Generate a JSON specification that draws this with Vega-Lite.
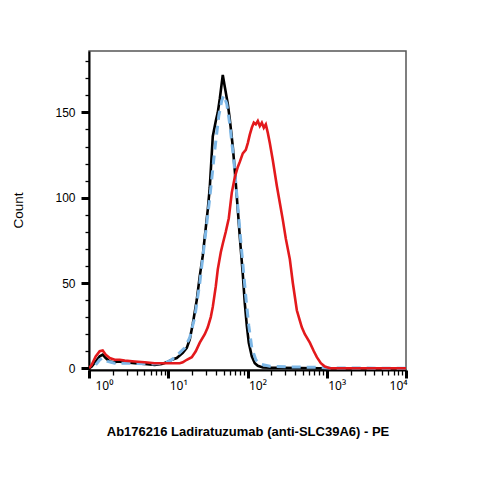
{
  "$schema": "https://vega.github.io/schema/vega-lite/v6.json",
  "width": 317,
  "height": 319,
  "autosize": {"type": "none"},
  "padding": {"left": 89, "top": 51, "right": 73, "bottom": 109},
  "background": "white",
  "config": {
    "view": {"stroke": "#555555", "strokeWidth": 1.5},
    "font": "Liberation Sans"
  },
  "data": {
    "values": [
      {"s": "k", "x": 1, "y": 0},
      {"s": "k", "x": 1.082, "y": 1},
      {"s": "k", "x": 1.215, "y": 4},
      {"s": "k", "x": 1.365, "y": 7},
      {"s": "k", "x": 1.489, "y": 8},
      {"s": "k", "x": 1.625, "y": 6},
      {"s": "k", "x": 1.825, "y": 4},
      {"s": "k", "x": 2.051, "y": 3.5},
      {"s": "k", "x": 2.303, "y": 4},
      {"s": "k", "x": 2.824, "y": 3.5},
      {"s": "k", "x": 3.776, "y": 3},
      {"s": "k", "x": 5.05, "y": 2.5},
      {"s": "k", "x": 6.75, "y": 2},
      {"s": "k", "x": 8.277, "y": 2.5},
      {"s": "k", "x": 9.574, "y": 3.5},
      {"s": "k", "x": 11.07, "y": 5},
      {"s": "k", "x": 12.8, "y": 6},
      {"s": "k", "x": 15.25, "y": 9},
      {"s": "k", "x": 17.13, "y": 12},
      {"s": "k", "x": 18.69, "y": 17},
      {"s": "k", "x": 20.39, "y": 26},
      {"s": "k", "x": 22.89, "y": 40},
      {"s": "k", "x": 24.99, "y": 54},
      {"s": "k", "x": 27.27, "y": 66},
      {"s": "k", "x": 28.9, "y": 77},
      {"s": "k", "x": 31.53, "y": 93},
      {"s": "k", "x": 33.42, "y": 106},
      {"s": "k", "x": 36.47, "y": 136},
      {"s": "k", "x": 39.79, "y": 145},
      {"s": "k", "x": 42.17, "y": 150},
      {"s": "k", "x": 44.71, "y": 158},
      {"s": "k", "x": 48.76, "y": 172},
      {"s": "k", "x": 51.69, "y": 165},
      {"s": "k", "x": 56.41, "y": 155},
      {"s": "k", "x": 59.78, "y": 146},
      {"s": "k", "x": 65.22, "y": 130},
      {"s": "k", "x": 69.14, "y": 116},
      {"s": "k", "x": 75.43, "y": 93},
      {"s": "k", "x": 79.97, "y": 77},
      {"s": "k", "x": 87.25, "y": 55},
      {"s": "k", "x": 92.47, "y": 38},
      {"s": "k", "x": 98.0, "y": 25},
      {"s": "k", "x": 103.8, "y": 15},
      {"s": "k", "x": 113.3, "y": 7},
      {"s": "k", "x": 123.6, "y": 3},
      {"s": "k", "x": 134.9, "y": 1.5},
      {"s": "k", "x": 156.1, "y": 0.5},
      {"s": "k", "x": 191.2, "y": 0.3},
      {"s": "k", "x": 255.7, "y": 0.3},
      {"s": "k", "x": 457.5, "y": 0.2},
      {"s": "k", "x": 818.4, "y": 0},
      {"s": "k", "x": 10000, "y": 0},
      {"s": "b", "x": 1.215, "y": 2},
      {"s": "b", "x": 1.365, "y": 5},
      {"s": "b", "x": 1.489, "y": 6},
      {"s": "b", "x": 1.722, "y": 4},
      {"s": "b", "x": 2.111, "y": 3},
      {"s": "b", "x": 3.265, "y": 3},
      {"s": "b", "x": 5.84, "y": 2.5},
      {"s": "b", "x": 9.03, "y": 3},
      {"s": "b", "x": 11.07, "y": 5},
      {"s": "b", "x": 13.18, "y": 8},
      {"s": "b", "x": 16.16, "y": 12},
      {"s": "b", "x": 18.69, "y": 18},
      {"s": "b", "x": 21.61, "y": 30},
      {"s": "b", "x": 24.99, "y": 50},
      {"s": "b", "x": 28.9, "y": 75},
      {"s": "b", "x": 33.42, "y": 100},
      {"s": "b", "x": 38.65, "y": 128},
      {"s": "b", "x": 43.42, "y": 148},
      {"s": "b", "x": 47.37, "y": 157},
      {"s": "b", "x": 50.21, "y": 160},
      {"s": "b", "x": 54.79, "y": 155},
      {"s": "b", "x": 59.78, "y": 143},
      {"s": "b", "x": 67.14, "y": 122},
      {"s": "b", "x": 75.43, "y": 95},
      {"s": "b", "x": 84.72, "y": 68},
      {"s": "b", "x": 95.17, "y": 42},
      {"s": "b", "x": 103.8, "y": 25},
      {"s": "b", "x": 113.3, "y": 12},
      {"s": "b", "x": 127.3, "y": 5},
      {"s": "b", "x": 143.0, "y": 2.5},
      {"s": "b", "x": 191.2, "y": 1.2},
      {"s": "b", "x": 342.0, "y": 0.8},
      {"s": "b", "x": 818.4, "y": 0.5},
      {"s": "b", "x": 1094, "y": 0.2},
      {"s": "b", "x": 10000, "y": 0},
      {"s": "r", "x": 1, "y": 0},
      {"s": "r", "x": 1.082, "y": 2},
      {"s": "r", "x": 1.215, "y": 7},
      {"s": "r", "x": 1.365, "y": 10},
      {"s": "r", "x": 1.489, "y": 10.5},
      {"s": "r", "x": 1.625, "y": 8},
      {"s": "r", "x": 1.825, "y": 6},
      {"s": "r", "x": 2.111, "y": 5},
      {"s": "r", "x": 2.442, "y": 5},
      {"s": "r", "x": 2.824, "y": 4.5},
      {"s": "r", "x": 3.776, "y": 4},
      {"s": "r", "x": 5.05, "y": 3.5},
      {"s": "r", "x": 6.75, "y": 3},
      {"s": "r", "x": 9.03, "y": 3},
      {"s": "r", "x": 12.08, "y": 3},
      {"s": "r", "x": 13.97, "y": 3},
      {"s": "r", "x": 15.25, "y": 3.5},
      {"s": "r", "x": 17.13, "y": 5},
      {"s": "r", "x": 19.81, "y": 6.5},
      {"s": "r", "x": 22.24, "y": 10},
      {"s": "r", "x": 24.99, "y": 15},
      {"s": "r", "x": 28.9, "y": 20},
      {"s": "r", "x": 31.53, "y": 24},
      {"s": "r", "x": 34.41, "y": 30},
      {"s": "r", "x": 36.47, "y": 36},
      {"s": "r", "x": 39.79, "y": 48},
      {"s": "r", "x": 42.17, "y": 58},
      {"s": "r", "x": 46.03, "y": 68},
      {"s": "r", "x": 48.76, "y": 73},
      {"s": "r", "x": 53.21, "y": 80},
      {"s": "r", "x": 58.06, "y": 88},
      {"s": "r", "x": 63.36, "y": 103},
      {"s": "r", "x": 69.14, "y": 112},
      {"s": "r", "x": 75.43, "y": 118},
      {"s": "r", "x": 79.97, "y": 121},
      {"s": "r", "x": 87.25, "y": 126},
      {"s": "r", "x": 95.17, "y": 128},
      {"s": "r", "x": 100.9, "y": 132},
      {"s": "r", "x": 106.9, "y": 137},
      {"s": "r", "x": 113.3, "y": 141},
      {"s": "r", "x": 120.1, "y": 144},
      {"s": "r", "x": 127.3, "y": 143},
      {"s": "r", "x": 134.9, "y": 145},
      {"s": "r", "x": 143.0, "y": 142},
      {"s": "r", "x": 151.6, "y": 144},
      {"s": "r", "x": 160.6, "y": 141},
      {"s": "r", "x": 170.3, "y": 143},
      {"s": "r", "x": 180.5, "y": 138},
      {"s": "r", "x": 191.2, "y": 132},
      {"s": "r", "x": 208.6, "y": 122},
      {"s": "r", "x": 234.4, "y": 107},
      {"s": "r", "x": 255.7, "y": 97},
      {"s": "r", "x": 279.0, "y": 87},
      {"s": "r", "x": 304.4, "y": 76},
      {"s": "r", "x": 342.0, "y": 64},
      {"s": "r", "x": 373.3, "y": 50},
      {"s": "r", "x": 419.3, "y": 34},
      {"s": "r", "x": 457.5, "y": 28},
      {"s": "r", "x": 484.8, "y": 24},
      {"s": "r", "x": 529.0, "y": 20},
      {"s": "r", "x": 611.8, "y": 15},
      {"s": "r", "x": 687.4, "y": 10},
      {"s": "r", "x": 749.9, "y": 6.5},
      {"s": "r", "x": 842.4, "y": 3},
      {"s": "r", "x": 946.2, "y": 1},
      {"s": "r", "x": 1094, "y": 0},
      {"s": "r", "x": 10000, "y": 0}
    ]
  },
  "encoding": {
    "x": {
      "field": "x",
      "type": "quantitative",
      "scale": {"type": "log", "domain": [1, 10000], "nice": false},
      "axis": {
        "title": "Ab176216 Ladiratuzumab (anti-SLC39A6) - PE",
        "titleFont": "Liberation Sans",
        "titleFontSize": 13,
        "titleFontWeight": "bold",
        "titleColor": "#000000",
        "titleBaseline": "middle",
        "titleY": 61,
        "values": [1,2,3,4,5,6,7,8,9,10,20,30,40,50,60,70,80,90,100,200,300,400,500,600,700,800,900,1000,2000,3000,4000,5000,6000,7000,8000,9000,10000],
        "labelExpr": "indexof([1,10,100,1000,10000], datum.value) >= 0 ? '10' + ['⁰','¹','²','³','⁴'][round(log(datum.value)/LN10)] : ''",
        "labelOverlap": false,
        "labelFlush": false,
        "labelFont": "Noto Sans",
        "labelFontSize": 12,
        "labelColor": "#000000",
        "labelPadding": 2,
        "labelAlign": {"condition": {"test": "datum.value >= 10000", "value": "right"}, "value": "left"},
        "labelOffset": {"condition": {"test": "datum.value == 1", "value": 6}, "value": 1},
        "tickSize": {"condition": {"test": "indexof([1,10,100,1000,10000], datum.value) >= 0", "value": 8}, "value": 5},
        "tickWidth": {"condition": {"test": "indexof([1,10,100,1000,10000], datum.value) >= 0", "value": 3}, "value": 1.3},
        "tickColor": "#000000",
        "domainColor": "#000000",
        "domainWidth": 2,
        "grid": false
      }
    },
    "y": {
      "field": "y",
      "type": "quantitative",
      "scale": {"domain": [-1, 186], "nice": false, "zero": false},
      "axis": {
        "title": "Count",
        "titleFont": "Liberation Sans",
        "titleFontSize": 13.5,
        "titleFontWeight": "normal",
        "titleColor": "#000000",
        "titleAngle": -90,
        "titleAlign": "center",
        "titleBaseline": "middle",
        "titleX": -71,
        "titleY": 159,
        "values": [0,10,20,30,40,50,60,70,80,90,100,110,120,130,140,150,160,170,180],
        "labelExpr": "datum.value % 50 == 0 ? datum.label : ''",
        "labelOverlap": false,
        "labelFont": "Liberation Sans",
        "labelFontSize": 12,
        "labelColor": "#000000",
        "labelPadding": 6,
        "tickSize": {"condition": {"test": "datum.value % 50 == 0", "value": 8}, "value": 4},
        "tickWidth": {"condition": {"test": "datum.value % 50 == 0", "value": 3}, "value": 1.3},
        "tickColor": "#000000",
        "domainColor": "#000000",
        "domainWidth": 2,
        "grid": false
      }
    }
  },
  "layer": [
    {
      "transform": [{"filter": "datum.s == 'k'"}],
      "mark": {"type": "line", "color": "#000000", "strokeWidth": 2.6, "clip": true, "interpolate": "linear"}
    },
    {
      "transform": [{"filter": "datum.s == 'b'"}],
      "mark": {"type": "line", "color": "#7db7e6", "strokeWidth": 3, "strokeDash": [9, 6], "clip": true}
    },
    {
      "transform": [{"filter": "datum.s == 'r'"}],
      "mark": {"type": "line", "color": "#e3191c", "strokeWidth": 2.6, "clip": true}
    }
  ]
}
